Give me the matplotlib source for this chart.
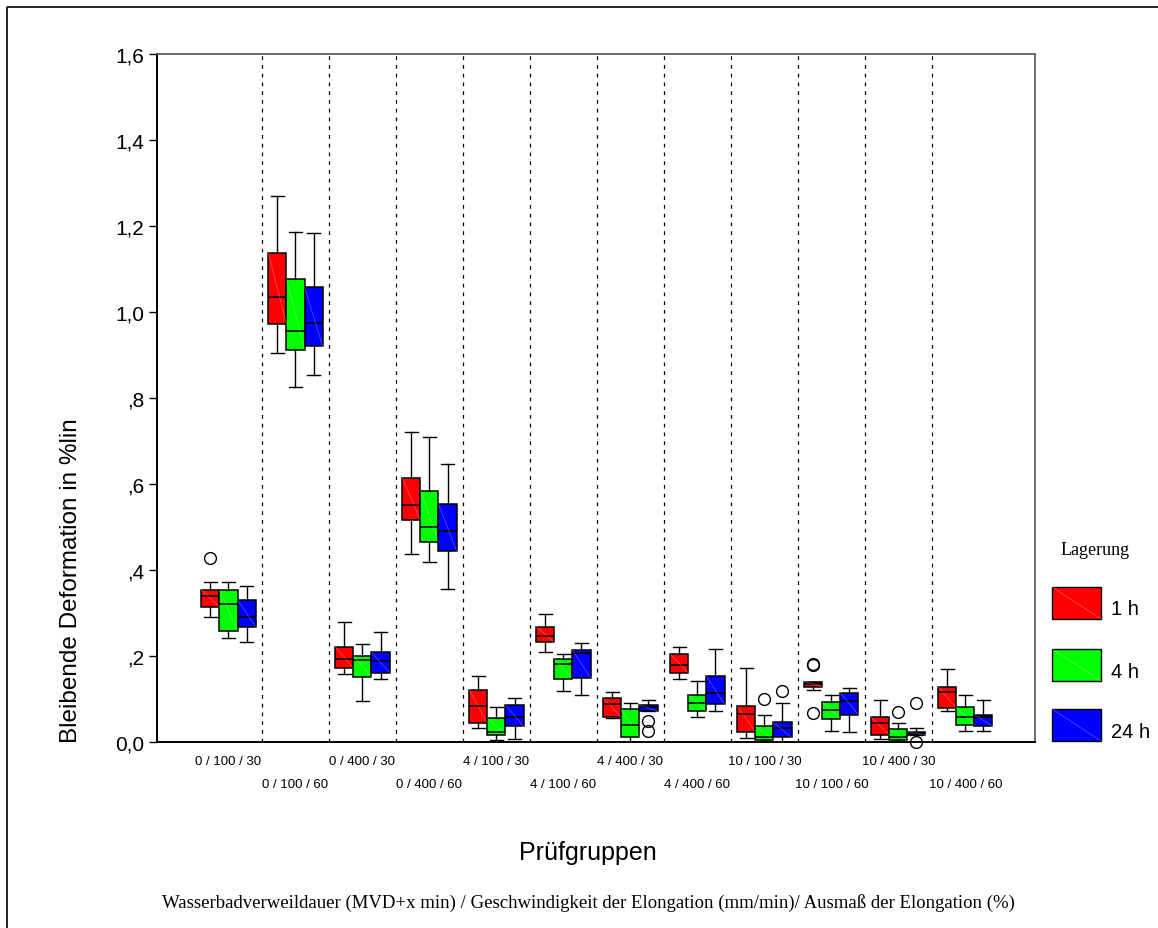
import matplotlib
matplotlib.use("Agg")
import matplotlib.pyplot as plt
from matplotlib.patches import Rectangle
from matplotlib.lines import Line2D
from matplotlib.transforms import blended_transform_factory

# ---- data -------------------------------------------------------------
groups = ["0 / 100 / 30", "0 / 100 / 60", "0 / 400 / 30", "0 / 400 / 60",
          "4 / 100 / 30", "4 / 100 / 60", "4 / 400 / 30", "4 / 400 / 60",
          "10 / 100 / 30", "10 / 100 / 60", "10 / 400 / 30", "10 / 400 / 60"]
storage = ["1 h", "4 h", "24 h"]
colors = ["#ff0000", "#00ff00", "#0000ff"]

whishi_1h = [0.372, 1.270, 0.279, 0.720, 0.152, 0.296, 0.116, 0.221, 0.172, 0.140, 0.098, 0.168]
q3_1h     = [0.354, 1.137, 0.221, 0.613, 0.121, 0.268, 0.102, 0.204, 0.083, 0.140, 0.057, 0.128]
med_1h    = [0.340, 1.034, 0.192, 0.551, 0.083, 0.246, 0.087, 0.178, 0.064, 0.134, 0.044, 0.115]
q1_1h     = [0.313, 0.972, 0.171, 0.516, 0.043, 0.231, 0.057, 0.160, 0.023, 0.128, 0.016, 0.078]
whislo_1h = [0.291, 0.905, 0.158, 0.437, 0.031, 0.209, 0.054, 0.147, 0.009, 0.121, 0.006, 0.071]
fliers_1h = {0: [0.427], 9: [0.179, 0.181, 0.066]}

whishi_4h = [0.372, 1.187, 0.228, 0.710, 0.080, 0.204, 0.090, 0.142, 0.061, 0.109, 0.044, 0.109]
q3_4h     = [0.354, 1.076, 0.200, 0.584, 0.055, 0.193, 0.075, 0.109, 0.036, 0.092, 0.029, 0.080]
med_4h    = [0.320, 0.956, 0.190, 0.499, 0.023, 0.181, 0.040, 0.091, 0.010, 0.074, 0.010, 0.058]
q1_4h     = [0.257, 0.912, 0.150, 0.464, 0.016, 0.147, 0.011, 0.071, 0.005, 0.053, 0.003, 0.039]
whislo_4h = [0.241, 0.825, 0.095, 0.419, 0.003, 0.117, 0.000, 0.057, 0.002, 0.026, 0.001, 0.026]
fliers_4h = {8: [0.099], 10: [0.070]}

whishi_24h = [0.362, 1.184, 0.256, 0.647, 0.102, 0.229, 0.098, 0.215, 0.090, 0.124, 0.033, 0.098]
q3_24h     = [0.330, 1.058, 0.208, 0.553, 0.085, 0.213, 0.085, 0.152, 0.045, 0.113, 0.023, 0.063]
med_24h    = [0.291, 0.974, 0.187, 0.490, 0.057, 0.206, 0.080, 0.113, 0.031, 0.095, 0.021, 0.057]
q1_24h     = [0.268, 0.920, 0.161, 0.444, 0.036, 0.149, 0.071, 0.087, 0.010, 0.063, 0.016, 0.036]
whislo_24h = [0.231, 0.852, 0.147, 0.355, 0.006, 0.109, 0.071, 0.071, 0.000, 0.023, 0.016, 0.026]
fliers_24h = {6: [0.047, 0.026], 8: [0.119], 10: [0.089, 0.000]}

yticks = [0.0, 0.2, 0.4, 0.6, 0.8, 1.0, 1.2, 1.4, 1.6]
ytick_labels = ["0,0", ",2", ",4", ",6", ",8", "1,0", "1,2", "1,4", "1,6"]

series = [
    (whislo_1h, q1_1h, med_1h, q3_1h, whishi_1h, fliers_1h),
    (whislo_4h, q1_4h, med_4h, q3_4h, whishi_4h, fliers_4h),
    (whislo_24h, q1_24h, med_24h, q3_24h, whishi_24h, fliers_24h),
]

SANS = "Liberation Sans"
SERIF = "Liberation Serif"

W, H, DPI = 1158, 929, 100
fig = plt.figure(figsize=(W / DPI, H / DPI), dpi=DPI)


def fx(px):
    return px / W


def fy(py):
    return 1 - py / H


ax = fig.add_axes([fx(157), fy(742.7), fx(1035) - fx(157), fy(55) - fy(742.7)])

n = len(groups)
box_w = 0.27
offsets = [-box_w, 0.0, box_w]

for (lo, q1, med, q3, hi, fl), off, col in zip(series, offsets, colors):
    stats = []
    for i in range(n):
        stats.append(dict(whislo=lo[i], q1=q1[i], med=med[i], q3=q3[i],
                          whishi=hi[i], fliers=fl.get(i, [])))
    pos = [i + off for i in range(n)]
    ax.bxp(stats, positions=pos, widths=box_w, capwidths=box_w * 0.7,
           patch_artist=True, manage_ticks=False,
           boxprops=dict(facecolor=col, edgecolor="black", linewidth=1.1),
           medianprops=dict(color="black", linewidth=1.2),
           whiskerprops=dict(color="black", linewidth=1.0),
           capprops=dict(color="black", linewidth=1.0),
           flierprops=dict(marker="o", markerfacecolor="none",
                           markeredgecolor="black", markersize=8.5,
                           markeredgewidth=1.0, clip_on=False))
    # faint diagonal sheen across each box
    for i in range(n):
        ax.plot([pos[i] - box_w / 2, pos[i] + box_w / 2], [q3[i], q1[i]],
                color="white", lw=0.6, alpha=0.3, zorder=3)

# dashed separators between groups
for b in range(1, n):
    ax.axvline(b - 0.5, color="black", lw=0.9, ls=(0, (3, 4)), zorder=1)

ax.set_xlim(-1.067, 12.04)
ax.set_ylim(0, 1.6)
ax.set_yticks(yticks)
ax.set_yticklabels(ytick_labels, fontfamily=SANS, fontsize=15)
ax.tick_params(axis="y", direction="out", length=6, width=1.0, pad=3)
ax.set_xticks([])

for side in ["left", "bottom"]:
    ax.spines[side].set_linewidth(1.4)
    ax.spines[side].set_color("black")
for side in ["top", "right"]:
    ax.spines[side].set_linewidth(1.2)
    ax.spines[side].set_color("#555555")

# staggered category labels
label_tr = blended_transform_factory(ax.transData, fig.transFigure)
for i, g in enumerate(groups):
    ypix = 762 if i % 2 == 0 else 785
    ax.text(i, fy(ypix), g, transform=label_tr, ha="center", va="center",
            fontfamily=SANS, fontsize=9.5)

fig.text(fx(71), fy(581), "Bleibende Deformation in %lin", rotation=90,
         ha="center", va="center", fontfamily=SANS, fontsize=17.5)
fig.text(fx(588), fy(853), "Prüfgruppen", ha="center", va="center",
         fontfamily=SANS, fontsize=18)
fig.text(fx(588), fy(903),
         "Wasserbadverweildauer (MVD+x min) / Geschwindigkeit der Elongation (mm/min)/ Ausmaß der Elongation (%)",
         ha="center", va="center", fontfamily=SERIF, fontsize=13.5)

# legend
fig.text(fx(1095), fy(551), "Lagerung", ha="center", va="center",
         fontfamily=SERIF, fontsize=13)
leg_tops = [588, 650, 710]
for lab, col, top in zip(storage, colors, leg_tops):
    x0, x1 = fx(1052), fx(1101)
    y0, y1 = fy(top + 32), fy(top)
    fig.add_artist(Rectangle((x0, y0), x1 - x0, y1 - y0, transform=fig.transFigure,
                             facecolor=col, edgecolor="black", linewidth=1.0))
    fig.add_artist(Line2D([x0, x1], [y1, y0], transform=fig.transFigure,
                          color="white", lw=0.6, alpha=0.3))
    fig.text(fx(1111), fy(top + 22), lab, ha="left", va="center",
             fontfamily=SANS, fontsize=14.5)

# outer frame
fig.add_artist(Line2D([fx(7), fx(7), 1.0], [0.0, fy(8), fy(8)],
                      transform=fig.transFigure, color="black", lw=1.2))

fig.savefig("out.png", dpi=DPI)
